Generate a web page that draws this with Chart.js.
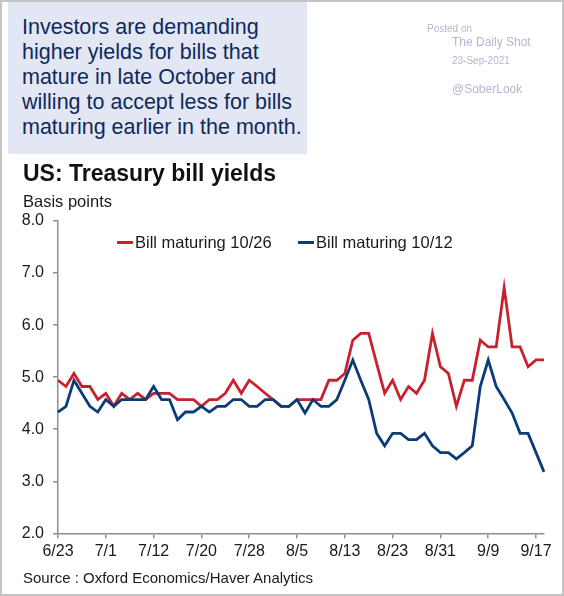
<!DOCTYPE html>
<html>
<head>
<meta charset="utf-8">
<script src="https://cdn.jsdelivr.net/npm/chart.js@4/dist/chart.umd.min.js"></script>
<style>
  html, body { margin: 0; padding: 0; background: #fff; }
  body { width: 564px; height: 596px; position: relative; overflow: hidden;
         font-family: Arial, "Liberation Sans", sans-serif; }
  #frame { position: absolute; left: 0; top: 0; width: 564px; height: 596px;
           box-sizing: border-box; border: 2px solid #c4c4c4; pointer-events: none; z-index: 5; }
  #note { position: absolute; left: 8px; top: 2px; width: 299px; height: 152px; background: #e3e6f3; }
  #noteText { position: absolute; left: 22px; top: 14.5px; font-size: 21.5px; line-height: 25px;
              color: #0f2a5c; white-space: nowrap; }
  .wm { position: absolute; color: #b3b7cf; white-space: nowrap; line-height: 1; }
  #title { position: absolute; left: 23px; top: 159.5px; font-size: 23px; font-weight: bold;
           line-height: 26px; color: #111; white-space: nowrap; }
  #units { position: absolute; left: 23px; top: 192px; font-size: 16.5px; line-height: 18px; color: #1a1a1a; }
  .leg { position: absolute; top: 232px; font-size: 16.5px; line-height: 20px; color: #1a1a1a; white-space: nowrap; }
  .legLine { position: absolute; top: 241px; width: 16px; height: 2.5px; }
  #source { position: absolute; left: 23px; top: 568.5px; font-size: 15px; line-height: 17px; color: #1a1a1a; white-space: nowrap; }
  canvas { position: absolute; left: 0; top: 0; }
</style>
</head>
<body>
<canvas id="chart" width="564" height="596"></canvas>
<div id="note"></div>
<div id="noteText">Investors are demanding<br>higher yields for bills that<br>mature in late October and<br>willing to accept less for bills<br>maturing earlier in the month.</div>
<div class="wm" style="left:427px; top:24px; font-size:10px;">Posted on</div>
<div class="wm" style="left:452px; top:36px; font-size:12px;">The Daily Shot</div>
<div class="wm" style="left:452px; top:56px; font-size:10px;">23-Sep-2021</div>
<div class="wm" style="left:452px; top:83px; font-size:12px;">@SoberLook</div>
<div id="title">US: Treasury bill yields</div>
<div id="units">Basis points</div>
<div class="legLine" style="left:117px; background:#c8202f;"></div>
<div class="leg" style="left:135px;">Bill maturing 10/26</div>
<div class="legLine" style="left:298px; background:#0c3c78;"></div>
<div class="leg" style="left:316px;">Bill maturing 10/12</div>
<div id="source">Source : Oxford Economics/Haver Analytics</div>
<div id="frame"></div>
<script>
// business days, 6/23 - 9/20 (2021)
const dates = [
  "6/23","6/24","6/25","6/28","6/29","6/30",
  "7/1","7/2","7/6","7/7","7/8","7/9","7/12","7/13","7/14","7/15","7/16",
  "7/19","7/20","7/21","7/22","7/23","7/26","7/27","7/28","7/29","7/30",
  "8/2","8/3","8/4","8/5","8/6","8/9","8/10","8/11","8/12","8/13",
  "8/16","8/17","8/18","8/19","8/20","8/23","8/24","8/25","8/26","8/27","8/30","8/31",
  "9/1","9/2","9/3","9/7","9/8","9/9","9/10","9/13","9/14","9/15","9/16","9/17","9/20"
];

const bill1026 = [
  4.94, 4.82, 5.07, 4.82, 4.82, 4.57, 4.69, 4.44, 4.69, 4.57,
  4.69, 4.57, 4.69, 4.69, 4.69, 4.57, 4.57, 4.57, 4.44, 4.57,
  4.57, 4.69, 4.94, 4.69, 4.94, 4.82, 4.69, 4.57, 4.44, 4.44,
  4.57, 4.57, 4.57, 4.57, 4.94, 4.94, 5.07, 5.71, 5.84, 5.84,
  5.26, 4.69, 4.94, 4.57, 4.82, 4.69, 4.94, 5.84, 5.20, 5.07,
  4.44, 4.94, 4.94, 5.71, 5.58, 5.58, 6.72, 5.58, 5.58, 5.20,
  5.33, 5.33
];

const bill1012 = [
  4.33, 4.44, 4.94, 4.69, 4.44, 4.33, 4.57, 4.44, 4.57, 4.57,
  4.57, 4.57, 4.82, 4.57, 4.57, 4.18, 4.33, 4.33, 4.44, 4.33,
  4.44, 4.44, 4.57, 4.57, 4.44, 4.44, 4.57, 4.57, 4.44, 4.44,
  4.57, 4.31, 4.57, 4.44, 4.44, 4.57, 4.94, 5.33, 4.94, 4.57,
  3.92, 3.68, 3.92, 3.92, 3.80, 3.80, 3.92, 3.68, 3.55, 3.55,
  3.43, 3.55, 3.68, 4.82, 5.33, 4.82, 4.57, 4.31, 3.92, 3.92,
  3.55, 3.18
];

const yMin = 2;
const yMax = 8;
const tickEvery = 6;

const axisColor = "#8f8f8f";
const font = { family: 'Arial, "Liberation Sans", sans-serif', size: 16 };

new Chart(document.getElementById("chart"), {
  type: "line",
  data: {
    labels: dates,
    datasets: [
      { label: "Bill maturing 10/26", data: bill1026, borderColor: "#c8202f",
        borderWidth: 2.8, pointRadius: 0, tension: 0, order: 1 },
      { label: "Bill maturing 10/12", data: bill1012, borderColor: "#0c3c78",
        borderWidth: 2.8, pointRadius: 0, tension: 0, order: 0 }
    ]
  },
  options: {
    responsive: false,
    animation: false,
    layout: { padding: { top: 221, right: 20, left: 0, bottom: 0 } },
    plugins: { legend: { display: false }, tooltip: { enabled: false } },
    scales: {
      x: {
        offset: false,
        grid: { drawOnChartArea: false, tickLength: 5, color: axisColor, lineWidth: 1.5 },
        border: { color: axisColor, width: 1.5 },
        ticks: { autoSkip: false, maxRotation: 0, padding: 4, color: "#1a1a1a", font: font },
        afterBuildTicks: axis => {
          axis.ticks = axis.ticks.filter(t => t.value % tickEvery === 0);
        },
        afterFit: axis => { axis.height = 62.7; }
      },
      y: {
        min: yMin,
        max: yMax,
        grid: { drawOnChartArea: false, tickLength: 5, color: axisColor, lineWidth: 1.5 },
        border: { color: axisColor, width: 1.5 },
        ticks: { stepSize: 1, padding: 9, color: "#1a1a1a", font: font,
                 callback: v => v.toFixed(1) },
        afterFit: axis => { axis.width = 58; }
      }
    }
  }
});
</script>
</body>
</html>
